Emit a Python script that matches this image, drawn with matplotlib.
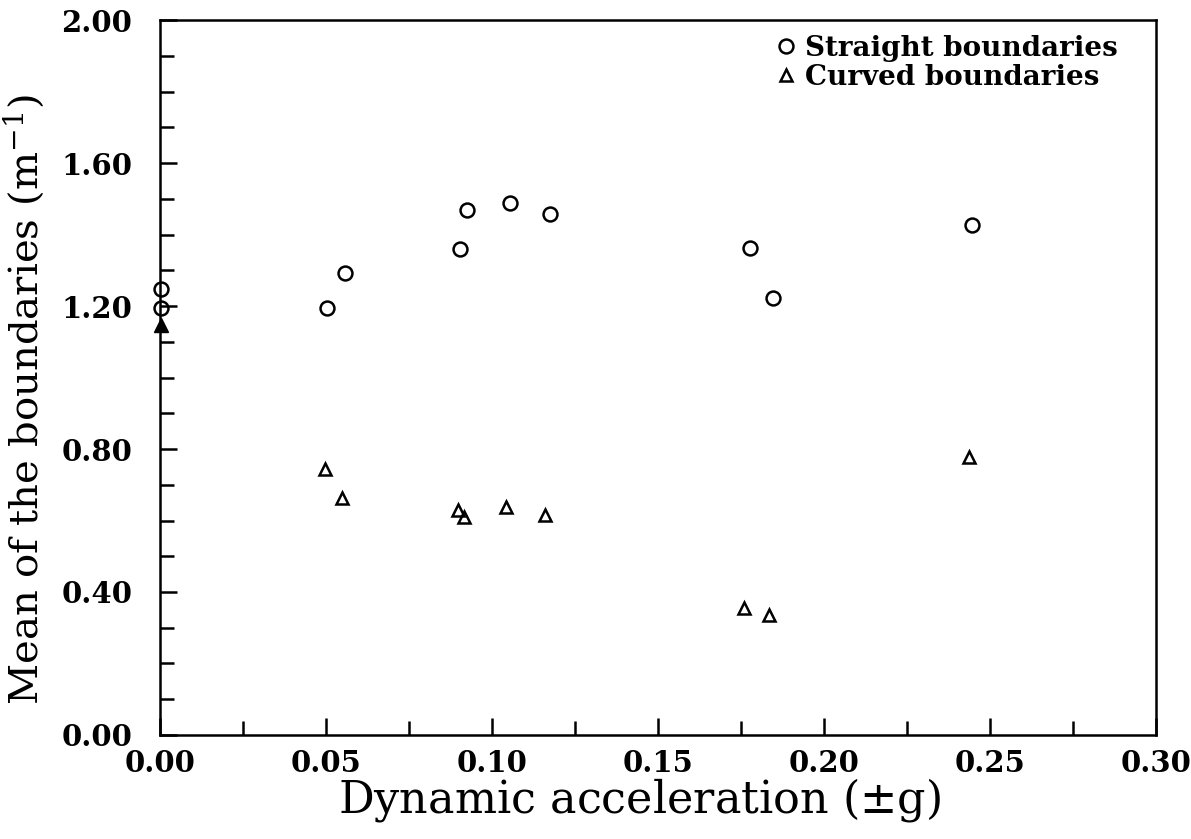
import numpy as np
import matplotlib
matplotlib.use('Agg')
import matplotlib.pyplot as plt
from matplotlib.ticker import MultipleLocator, FormatStrFormatter

# data
x_straight = [0.0003, 0.0003, 0.0503, 0.0557, 0.0904, 0.0925, 0.1054, 0.1175, 0.1777, 0.1846, 0.2446]
y_straight = [1.248, 1.194, 1.194, 1.292, 1.359, 1.469, 1.488, 1.457, 1.362, 1.222, 1.427]

x_curved = [0.0497, 0.0548, 0.0898, 0.0916, 0.1042, 0.116, 0.176, 0.1834, 0.2437]
y_curved = [0.744, 0.663, 0.629, 0.610, 0.638, 0.615, 0.355, 0.336, 0.778]

x_filled = [0.0003]
y_filled = [1.147]

plt.rcParams['font.family'] = ['DejaVu Serif']
plt.rcParams['mathtext.fontset'] = 'dejavuserif'

fig = plt.figure(figsize=(11.91, 8.39), dpi=100)
ax = fig.add_axes([0.1343, 0.124, 0.8363, 0.852])

ax.plot(x_straight, y_straight, 'o', mfc='none', mec='black', ms=10, mew=1.8,
        label='Straight boundaries', clip_on=False)
ax.plot(x_curved, y_curved, '^', mfc='none', mec='black', ms=9, mew=1.8,
        label='Curved boundaries', clip_on=False)
ax.plot(x_filled, y_filled, '^', color='black', ms=10, clip_on=False)

ax.set_xlim(0, 0.30)
ax.set_ylim(0, 2.00)
ax.xaxis.set_major_locator(MultipleLocator(0.05))
ax.xaxis.set_minor_locator(MultipleLocator(0.025))
ax.yaxis.set_major_locator(MultipleLocator(0.40))
ax.yaxis.set_minor_locator(MultipleLocator(0.10))
ax.xaxis.set_major_formatter(FormatStrFormatter('%.2f'))
ax.yaxis.set_major_formatter(FormatStrFormatter('%.2f'))

ax.tick_params(which='both', direction='in', width=1.8, top=False, right=False)
ax.tick_params(which='major', length=12)
ax.tick_params(which='minor', length=10)
ax.tick_params(axis='y', which='major', pad=20, labelsize=21)
ax.tick_params(axis='x', which='major', pad=10, labelsize=21)
for lab in ax.get_xticklabels() + ax.get_yticklabels():
    lab.set_fontweight('bold')
for sp in ax.spines.values():
    sp.set_linewidth(1.8)

ax.set_xlabel(r'Dynamic acceleration ($\pm$g)', fontsize=32)
ax.set_ylabel(r'Mean of the boundaries (m$^{-1}$)', fontsize=29)
ax.xaxis.set_label_coords(0.482, -0.057)
ax.yaxis.set_label_coords(-0.114, 0.469)

ax.legend(loc='upper right', frameon=False, handletextpad=0.2, handlelength=1.0,
          borderaxespad=0.5, borderpad=0.4, labelspacing=0.05,
          bbox_to_anchor=(0.987, 1.014),
          prop={'family': 'DejaVu Serif', 'weight': 'bold', 'size': 20})

plt.savefig('out.png', dpi=100)
